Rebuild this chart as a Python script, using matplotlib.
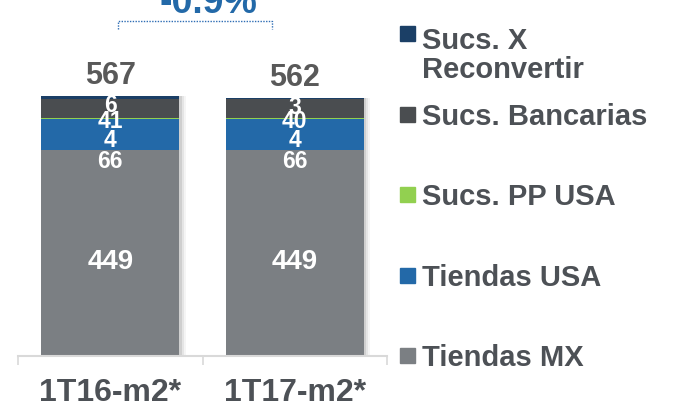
import matplotlib.pyplot as plt
import matplotlib.patheffects as pe
from matplotlib.patches import Rectangle
from matplotlib.lines import Line2D
import numpy as np

plt.rcParams['font.family'] = ['Liberation Sans', 'DejaVu Sans']
plt.rcParams['font.weight'] = 'bold'

# data
categories = ['1T16-m2*', '1T17-m2*']
series_names = ['Tiendas MX', 'Tiendas USA', 'Sucs. PP USA', 'Sucs. Bancarias', 'Sucs. X\nReconvertir']
tiendas_mx = [449, 449]
tiendas_usa = [66, 66]
sucs_pp_usa = [4, 4]
sucs_bancarias = [41, 40]
sucs_x_reconvertir = [6, 3]
totals = [567, 562]
change_label = '-0.9%'

series = [tiendas_mx, tiendas_usa, sucs_pp_usa, sucs_bancarias, sucs_x_reconvertir]
colors = ['#7b7f83', '#2369a8', '#92d050', '#4a4d50', '#1b3f66']
label_shift = [-6, -24, -19, -11, -6]   # pixels, labels pushed apart like in the original
text_col = '#4d5156'

W, H = 676, 409
fig = plt.figure(figsize=(W / 100, H / 100), dpi=100)
ax = fig.add_axes([18 / W, 1 - 356 / H, 369 / W, 316 / H])

x = np.arange(len(categories))
bottom = np.zeros(len(categories))
# soft shadow on the right of the bars
shadow = [pe.SimplePatchShadow(offset=(d, 0), shadow_rgbFace='#777777', alpha=a)
          for d, a in [(4.5, 0.07), (3, 0.12), (1.5, 0.2)]] + [pe.Normal()]
for vals, col, dy in zip(series, colors, label_shift):
    vals = np.array(vals)
    ax.bar(x, vals, 0.75, bottom=bottom, color=col, path_effects=shadow, zorder=2)
    for xi, b, v in zip(x, bottom, vals):
        ax.annotate(str(v), (xi, b + v / 2), xytext=(0, dy), textcoords='offset pixels',
                    ha='center', va='center_baseline', color='white',
                    fontsize=20 if v > 100 else 16.5, zorder=5)
    bottom += vals

for xi, top, t in zip(x, bottom, totals):
    ax.annotate(str(t), (xi, top), xytext=(0, 12), textcoords='offset pixels',
                ha='center', va='baseline', color='#595959', fontsize=22)

ax.set_xlim(-0.5, 1.5)
ax.set_ylim(0, 688)
ax.set_yticks([])
for s in ['left', 'top', 'right']:
    ax.spines[s].set_visible(False)
ax.spines['bottom'].set_color('#d9d9d9')
ax.spines['bottom'].set_linewidth(1.5)
ax.set_xticks(x, categories)
ax.set_xticks([-0.5, 0.5, 1.5], minor=True)
ax.tick_params(axis='x', which='major', length=0, pad=15.5, labelsize=23, labelcolor=text_col)
ax.tick_params(axis='x', which='minor', length=6.5, width=1.2, color='#d9d9d9')

# change bracket and label
bc = '#2e6db4'
fig.add_artist(Line2D([118 / W, 118 / W, 272 / W, 272 / W],
                      [1 - 29 / H, 1 - 20.5 / H, 1 - 20.5 / H, 1 - 29 / H],
                      color=bc, lw=1, ls=(0, (1, 1))))
fig.text(208 / W, 1 - 13 / H, change_label, ha='center', va='baseline',
         color='#2369a8', fontsize=27)

# legend drawn by hand (uneven spacing in the original)
leg_y = [355.5, 275, 194.5, 114.5, 33.5]
for name, col, yc in zip(series_names, colors, leg_y):
    fig.add_artist(Rectangle((400 / W, 1 - (yc + 7.5) / H), 15 / W, 15 / H,
                             transform=fig.transFigure, color=col))
    extra = 34.5 * name.count('\n')   # baseline is taken from the last line
    fig.text(422 / W, 1 - (yc + 10.5 + extra) / H, name, ha='left', va='baseline',
             color=text_col, fontsize=21, linespacing=1.05)

fig.savefig('out.png', dpi=100)
